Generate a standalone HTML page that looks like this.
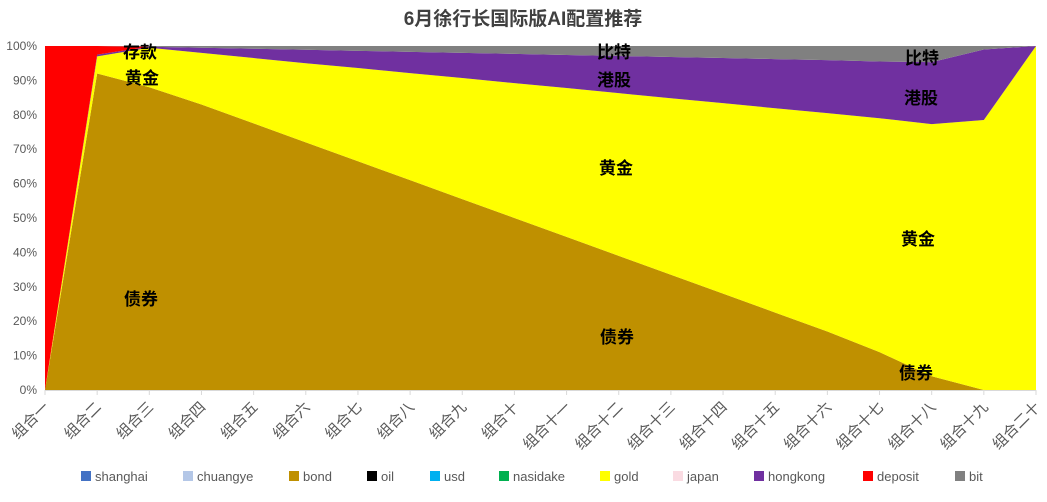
<!DOCTYPE html>
<html><head><meta charset="utf-8"><style>
body{margin:0;background:#fff;font-family:"Liberation Sans","Noto Sans CJK SC",sans-serif}
</style></head><body>
<svg id="c" width="1047" height="497" xmlns="http://www.w3.org/2000/svg" font-family="Liberation Sans, Noto Sans CJK SC, sans-serif"></svg>
<script>
const categories=["组合一","组合二","组合三","组合四","组合五","组合六","组合七","组合八","组合九","组合十","组合十一","组合十二","组合十三","组合十四","组合十五","组合十六","组合十七","组合十八","组合十九","组合二十"];
const seriesNames=["shanghai","chuangye","bond","oil","usd","nasidake","gold","japan","hongkong","deposit","bit"];
const shanghai=[0,0,0,0,0,0,0,0,0,0,0,0,0,0,0,0,0,0,0,0];
const chuangye=[0,0,0,0,0,0,0,0,0,0,0,0,0,0,0,0,0,0,0,0];
const bond=[0,92,88,83,77.5,72,66.5,61,55.5,50,44.5,39,33.5,28,22.5,17,11,4,0,0];
const oil=[0,0,0,0,0,0,0,0,0,0,0,0,0,0,0,0,0,0,0,0];
const usd=[0,0,0,0,0,0,0,0,0,0,0,0,0,0,0,0,0,0,0,0];
const nasidake=[0,0,0,0,0,0,0,0,0,0,0,0,0,0,0,0,0,0,0,0];
const gold=[0,5,11.5,15,19,23,27.1,31.1,35.2,39.2,43.3,47.3,51.3,55.4,59.4,63.5,68,73.3,78.5,100];
const japan=[0,0,0,0,0,0,0,0,0,0,0,0,0,0,0,0,0,0,0,0];
const hongkong=[0,0.5,0.3,1.5,2.7,3.9,5,6.2,7.3,8.5,9.6,10.8,12,13.1,14.3,15.4,16.5,18,20.5,0];
const deposit=[100,2.5,0,0,0,0,0,0,0,0,0,0,0,0,0,0,0,0,0,0];
const bit=[0,0,0.2,0.5,0.8,1.1,1.4,1.7,2,2.3,2.6,2.9,3.2,3.5,3.8,4.1,4.5,4.7,1,0];
const yTicks=[0,10,20,30,40,50,60,70,80,90,100];
const colors=["#4472C4","#B4C7E7","#BF9000","#000000","#00B0F0","#00B050","#FFFF00","#FADBE2","#7030A0","#FF0000","#808080"];
const data=[shanghai,chuangye,bond,oil,usd,nasidake,gold,japan,hongkong,deposit,bit];
const X0=45,X1=1036,Y0=390,Y1=46;
const xs=i=>X0+(X1-X0)*i/(categories.length-1);
const ys=v=>Y0-(Y0-Y1)*v/100;
const svg=document.getElementById('c');const NS="http://www.w3.org/2000/svg";
function el(t,a,p){const e=document.createElementNS(NS,t);for(const k in a)e.setAttribute(k,a[k]);(p||svg).appendChild(e);return e;}
const t=el('text',{x:523,y:25,'text-anchor':'middle','font-size':19,'font-weight':'bold',fill:'#404040'});t.textContent="6月徐行长国际版AI配置推荐";


let base=categories.map(()=>0);
data.forEach((s,si)=>{
  const top=base.map((b,i)=>b+s[i]);
  if(s.some(v=>v>0)){
    let d="M"+top.map((v,i)=>xs(i)+","+ys(v)).join("L");
    for(let i=categories.length-1;i>=0;i--)d+="L"+xs(i)+","+ys(base[i]);
    const p=el('path',{d:d+"Z",fill:colors[si]});
    
    
  }
  base=top;
});
el('line',{x1:X0,y1:Y0+0.5,x2:X1,y2:Y0+0.5,stroke:'#d9d9d9'});
yTicks.forEach(v=>{const e=el('text',{x:37,y:ys(v)+4,'text-anchor':'end','font-size':12,fill:'#595959'});e.textContent=v+"%";

});
categories.forEach((c,i)=>{
  el('line',{x1:xs(i),y1:Y0,x2:xs(i),y2:Y0+5,stroke:'#d9d9d9'});
  const e=el('text',{x:xs(i)+5,y:Y0+18,'text-anchor':'end','font-size':15,fill:'#595959',transform:`rotate(-45 ${xs(i)+5} ${Y0+18})`});e.textContent=c;
  
  
});
const labels=[["存款",140,58],["黄金",142,84],["债券",141,305],["比特",614,58],["港股",614,86],["黄金",616,174],["债券",617,343],["比特",922,64],["港股",921,104],["黄金",918,245],["债券",916,379]];
labels.forEach(l=>{const e=el('text',{x:l[1],y:l[2],'text-anchor':'middle','font-size':17,'font-weight':'bold',fill:'#000'});e.textContent=l[0];

});
const lx=[81,183,289,367,430,499,600,673,754,863,955];
seriesNames.forEach((n,i)=>{
  const g=el('g',{});
  
  
  el('rect',{x:lx[i],y:471,width:10,height:10,fill:colors[i]},g);
  const e=el('text',{x:lx[i]+14,y:481,'font-size':13,fill:'#595959'},g);e.textContent=n;
});
</script>
</body></html>
